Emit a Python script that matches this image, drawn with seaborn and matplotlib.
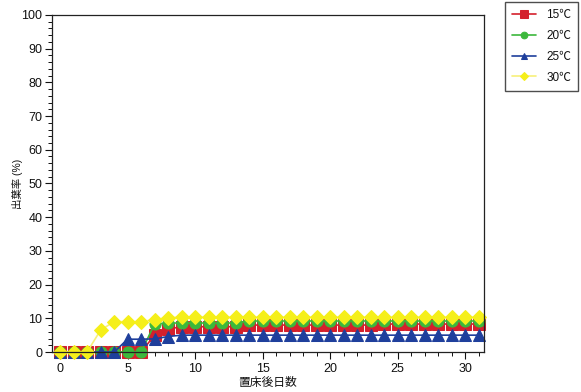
import matplotlib
matplotlib.use("Agg")
import matplotlib.pyplot as plt
import seaborn as sns
import pandas as pd
import numpy as np

# Days after placement on the bed
days = list(range(0, 32))

# Leaf emergence rate (%) for each temperature
rate_15 = [0, 0, 0, 0, 0, 0, 0, 5.0, 6.8, 7.5, 7.5, 7.5, 7.5, 7.5,
           8.0, 8.0, 8.0, 8.0, 8.0, 8.0, 8.0, 8.0, 8.0, 8.0,
           8.3, 8.3, 8.3, 8.3, 8.3, 8.3, 8.3, 8.3]
rate_20 = [0, 0, 0, 0, 0, 0, 0, 8.3, 8.6, 8.6, 8.6, 8.6, 8.6, 8.6,
           9.2, 9.2, 9.2, 9.2, 9.2, 9.2, 9.2, 9.2, 9.2, 9.2,
           9.2, 9.2, 9.2, 9.2, 9.2, 9.2, 9.2, 9.2]
rate_25 = [0, 0, 0, 0, 0, 3.8, 3.8, 3.9, 4.6, 5.0, 5.0, 5.0, 5.0, 5.0,
           5.0, 5.0, 5.0, 5.0, 5.0, 5.0, 5.0, 5.0, 5.0, 5.0,
           5.0, 5.0, 5.0, 5.0, 5.0, 5.0, 5.0, 5.0]
rate_30 = [0, 0, 0, 6.5, 9.0, 9.0, 9.0, 9.6, 10.2, 10.3, 10.3, 10.3, 10.3, 10.3,
           10.3, 10.3, 10.3, 10.3, 10.3, 10.3, 10.3, 10.3, 10.3, 10.3,
           10.3, 10.3, 10.3, 10.3, 10.3, 10.3, 10.3, 10.3]

labels = ["15℃", "20℃", "25℃", "30℃"]
series = [rate_15, rate_20, rate_25, rate_30]

colors = ["#d4202c", "#3cb83c", "#1f3f9c", "#f5ef1a"]
line_colors = ["#d4202c", "#3cb83c", "#1f3f9c", "#f7f07a"]
markers = ["s", "o", "^", "D"]
sizes = [8.5, 8, 8, 7.5]

sns.set_style("white")
plt.rcParams["font.family"] = ["Liberation Sans", "Noto Sans CJK JP", "DejaVu Sans"]
plt.rcParams["text.color"] = "#111111"
plt.rcParams["axes.labelcolor"] = "#111111"
plt.rcParams["xtick.color"] = "#111111"
plt.rcParams["ytick.color"] = "#111111"

fig = plt.figure(figsize=(5.81, 3.92), dpi=100)
ax = fig.add_axes([0.0895, 0.102, 0.7435, 0.860])

for lab, vals, c, lc, m, s in zip(labels, series, colors, line_colors, markers, sizes):
    df = pd.DataFrame({"day": days, "rate": vals})
    sns.lineplot(data=df, x="day", y="rate", ax=ax, color=lc, linewidth=1.2,
                 marker=m, markersize=s, markerfacecolor=c, markeredgecolor=c,
                 label=lab, clip_on=False)

ax.set_xlim(-0.6, 31.4)
ax.set_ylim(0, 100)
ax.set_xticks(np.arange(0, 31, 5))
ax.set_xticks(np.arange(0, 32, 1), minor=True)
ax.set_yticks(np.arange(0, 101, 10))
ax.set_yticks(np.arange(0, 101, 2), minor=True)
ax.tick_params(axis="both", which="major", direction="out", length=5, width=0.8,
               labelsize=9, bottom=True, left=True)
ax.tick_params(axis="both", which="minor", direction="out", length=3, width=0.7,
               bottom=True, left=True)
ax.tick_params(axis="x", which="both", bottom=True, pad=3)
ax.tick_params(axis="y", which="major", pad=2)

for sp in ax.spines.values():
    sp.set_color("#222222")
    sp.set_linewidth(0.9)

ax.set_xlabel("置床後日数", fontsize=8.5, labelpad=1)
ax.set_ylabel("出葉率 (%)", fontsize=7.5)
ax.yaxis.set_label_coords(-0.066, 0.5)

handles, lbls = ax.get_legend_handles_labels()
ax.legend(handles, lbls, loc="upper left", bbox_to_anchor=(0.869, 0.995),
          bbox_transform=fig.transFigure, frameon=True, fancybox=False,
          edgecolor="#222222", fontsize=8.5, markerscale=0.6, handlelength=2.0,
          labelspacing=0.75, borderpad=0.6, handletextpad=0.9, borderaxespad=0)

fig.savefig("out.png", dpi=100)
